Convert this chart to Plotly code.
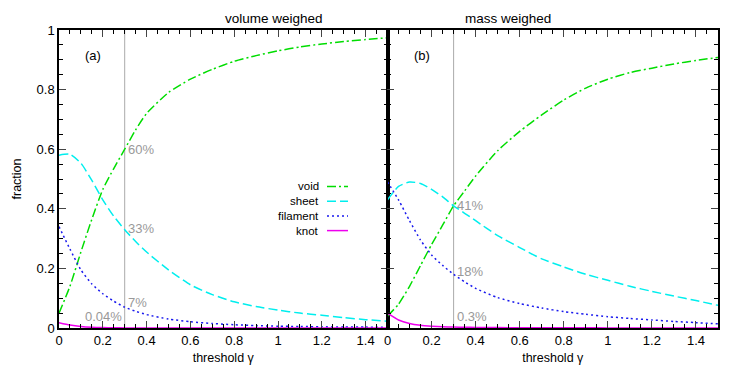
import plotly.graph_objects as go

# threshold values (x) shared by all curves
gamma = [0, 0.05, 0.1, 0.15, 0.2, 0.25, 0.3, 0.35, 0.4, 0.5, 0.6, 0.7,
         0.8, 0.9, 1.0, 1.1, 1.2, 1.3, 1.4, 1.5]

# (a) volume weighed
vol_void = [0.05, 0.14, 0.255, 0.365, 0.465, 0.535, 0.60, 0.665, 0.72, 0.79, 0.835, 0.868,
            0.895, 0.914, 0.93, 0.943, 0.953, 0.961, 0.968, 0.974]
vol_sheet = [0.58, 0.583, 0.553, 0.495, 0.43, 0.375, 0.33, 0.29, 0.255, 0.195, 0.145, 0.112,
             0.088, 0.072, 0.06, 0.05, 0.043, 0.035, 0.028, 0.023]
vol_filament = [0.34, 0.265, 0.195, 0.148, 0.115, 0.09, 0.07, 0.056, 0.045, 0.03, 0.021, 0.015,
                0.011, 0.008, 0.006, 0.005, 0.004, 0.003, 0.003, 0.002]
vol_knot = [0.018, 0.01, 0.005, 0.0025, 0.0013, 0.0007, 0.0004, 0.0003, 0.0002, 0.0001, 0.0001, 0.0,
            0.0, 0.0, 0.0, 0.0, 0.0, 0.0, 0.0, 0.0]

# (b) mass weighed
mass_void = [0.04, 0.08, 0.14, 0.21, 0.28, 0.345, 0.41, 0.46, 0.51, 0.595, 0.66, 0.715,
             0.765, 0.805, 0.835, 0.857, 0.872, 0.886, 0.898, 0.908]
mass_sheet = [0.43, 0.475, 0.49, 0.485, 0.465, 0.44, 0.41, 0.385, 0.36, 0.31, 0.27, 0.232,
              0.205, 0.18, 0.16, 0.14, 0.123, 0.107, 0.092, 0.076]
mass_filament = [0.49, 0.43, 0.36, 0.295, 0.245, 0.21, 0.18, 0.155, 0.133, 0.102, 0.082, 0.067,
                 0.055, 0.046, 0.038, 0.032, 0.027, 0.022, 0.018, 0.014]
mass_knot = [0.05, 0.027, 0.015, 0.009, 0.006, 0.004, 0.003, 0.0025, 0.002, 0.0015, 0.001, 0.0008,
             0.0006, 0.0005, 0.0004, 0.0003, 0.0003, 0.0002, 0.0002, 0.0002]

threshold = 0.3
vol_labels = [('60%', 0.60, 'left'), ('33%', 0.335, 'left'), ('7%', 0.085, 'left'), ('0.04%', 0.038, 'right')]
mass_labels = [('41%', 0.41, 'left'), ('18%', 0.188, 'left'), ('0.3%', 0.038, 'left')]

names = ['void', 'sheet', 'filament', 'knot']
colors = ['#00dd00', '#00eeee', '#1a1aee', '#ee00ee']
dashes = ['9px,3px,2px,3px', '9px,4px', '2px,3px', 'solid']

FONT = 'Liberation Sans, Arial, sans-serif'
GRAY = '#999999'

fig = go.Figure()

panels = [('x', 'y', [vol_void, vol_sheet, vol_filament, vol_knot]),
          ('x2', 'y2', [mass_void, mass_sheet, mass_filament, mass_knot])]
for xa, ya, series in panels:
    for name, vals, c, d in zip(names, series, colors, dashes):
        fig.add_trace(go.Scatter(x=gamma, y=vals, mode='lines', name=name, xaxis=xa, yaxis=ya,
                                 line=dict(color=c, dash=d, width=1.5, shape='spline', smoothing=0.6),
                                 showlegend=False))
    fig.add_shape(type='line', xref=xa, yref=ya, x0=threshold, x1=threshold, y0=0, y1=1,
                  line=dict(color='#aaaaaa', width=1), layer='below')

for xa, ya, labels in [('x', 'y', vol_labels), ('x2', 'y2', mass_labels)]:
    for txt, yv, side in labels:
        fig.add_annotation(x=threshold, y=yv, xref=xa, yref=ya, text=txt, showarrow=False,
                           xanchor=side, xshift=1 if side == 'left' else -1,
                           font=dict(family=FONT, size=13, color=GRAY))

fig.add_annotation(x=0.155, y=0.915, xref='x', yref='y', text='(a)', showarrow=False,
                   font=dict(family=FONT, size=13, color='black'))
fig.add_annotation(x=0.155, y=0.915, xref='x2', yref='y2', text='(b)', showarrow=False,
                   font=dict(family=FONT, size=13, color='black'))

# the page body has an 8px margin, so the figure is shrunk and shifted to fit
W, H = 659.0, 298.0
for i, (name, c, d) in enumerate(zip(names, colors, dashes)):
    py = 186.5 + i * 14.7
    yp = (328 - py) / H
    fig.add_annotation(x=(321 - 59) / W, y=yp, xref='paper', yref='paper', text=name,
                       showarrow=False, xanchor='right', yanchor='middle',
                       font=dict(family=FONT, size=11.5, color='black'))
    fig.add_shape(type='line', xref='paper', yref='paper', x0=(327 - 59) / W, x1=(348 - 59) / W,
                  y0=yp, y1=yp, line=dict(color=c, dash=d, width=1.5))

axis_common = dict(range=[0, 1.5], dtick=0.2, tick0=0, ticks='inside', ticklen=7, mirror='ticks',
                   showline=True, linecolor='black', linewidth=1.5, showgrid=False, zeroline=False,
                   automargin=False,
                   tickfont=dict(family=FONT, size=13, color='black'),
                   minor=dict(ticks='inside', dtick=0.05, ticklen=4, tickcolor='black'),
                   title=dict(text='threshold γ', font=dict(family=FONT, size=12.5, color='black'),
                              standoff=6))
yaxis_common = dict(range=[0, 1], dtick=0.2, ticks='inside', ticklen=7, mirror='ticks',
                    showline=True, linecolor='black', linewidth=1.5, showgrid=False, zeroline=False,
                    automargin=False,
                    tickfont=dict(family=FONT, size=13, color='black'),
                    minor=dict(ticks='inside', dtick=0.05, ticklen=4, tickcolor='black'))

split = 0.4985
fig.update_layout(
    width=739, height=366,
    margin=dict(l=51, r=29, t=22, b=46),
    plot_bgcolor='white', paper_bgcolor='white',
    xaxis=dict(domain=[0, split], anchor='y', **axis_common),
    xaxis2=dict(domain=[split, 1], anchor='y2', **axis_common),
    yaxis=dict(domain=[0, 1], anchor='x',
               title=dict(text='fraction', font=dict(family=FONT, size=12.5, color='black'), standoff=12),
               **yaxis_common),
    yaxis2=dict(domain=[0, 1], anchor='x2', showticklabels=False, **yaxis_common),
)

fig.add_annotation(x=split / 2, y=1, xref='paper', yref='paper', yanchor='bottom', yshift=2,
                   text='volume weighed', showarrow=False, font=dict(family=FONT, size=13.5, color='black'))
fig.add_annotation(x=(1 + split) / 2, y=1, xref='paper', yref='paper', yanchor='bottom', yshift=2,
                   text='mass weighed', showarrow=False, font=dict(family=FONT, size=13.5, color='black'))

fig.write_html("out.html")
